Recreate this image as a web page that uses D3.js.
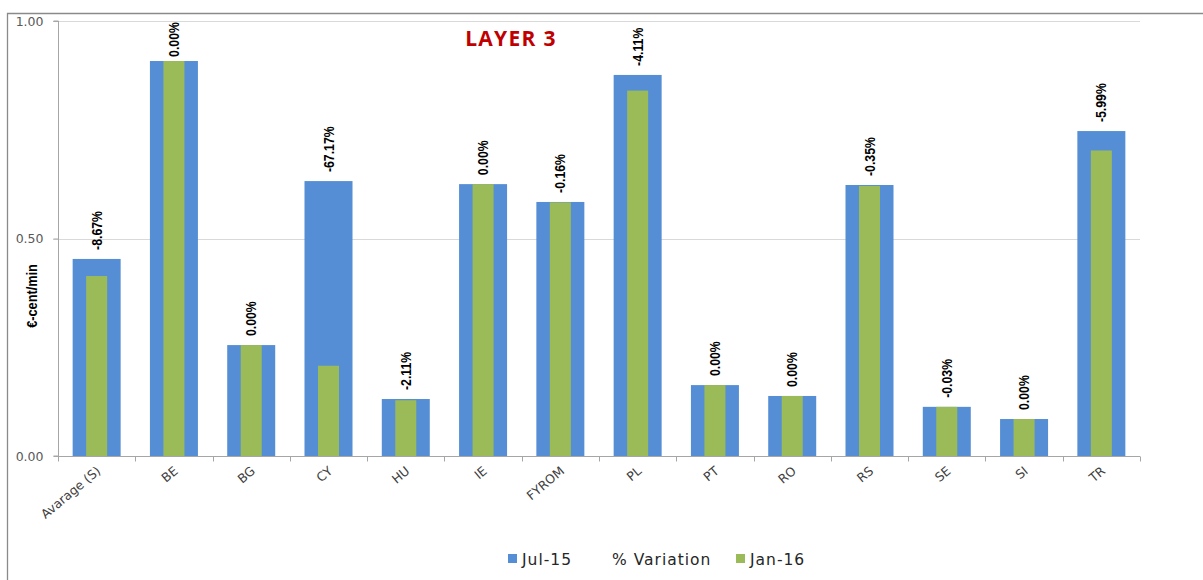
<!DOCTYPE html>
<html>
<head>
<meta charset="utf-8">
<script src="https://cdn.jsdelivr.net/npm/d3@7"></script>
<style>
  html, body { margin: 0; padding: 0; background: #fff; }
  svg { display: block; }
</style>
</head>
<body>
<svg id="chart" width="1203" height="580"></svg>
<script>
// Rates per destination, €-cent/min
const categories = ["Avarage (S)", "BE", "BG", "CY", "HU", "IE", "FYROM", "PL", "PT", "RO", "RS", "SE", "SI", "TR"];
const jul15 = [0.453, 0.908, 0.255, 0.632, 0.131, 0.625, 0.584, 0.876, 0.163, 0.138, 0.623, 0.113, 0.085, 0.747];
const jan16 = [0.4137, 0.908, 0.255, 0.2075, 0.1282, 0.625, 0.5831, 0.840, 0.163, 0.138, 0.6208, 0.11297, 0.085, 0.7023];
const variation = ["-8.67%", "0.00%", "0.00%", "-67.17%", "-2.11%", "0.00%", "-0.16%", "-4.11%", "0.00%", "0.00%", "-0.35%", "-0.03%", "0.00%", "-5.99%"];
const yTicks = [0, 0.5, 1.0];
const seriesNames = ["Jul-15", "% Variation", "Jan-16"];

const BLUE = "#558ED5";
const GREEN = "#9BBB59";
const AXIS = "#A6A6A6";

const svg = d3.select("#chart");
const m = { left: 58, right: 1140, top: 21, bottom: 456 };

// Outer chart frame (top and left edges visible)
svg.append("path")
  .attr("d", `M7.5,580 V13.5 H1203`)
  .attr("fill", "none")
  .attr("stroke", "#8A8A8A")
  .attr("stroke-width", 1.3);

const x = d3.scaleBand().domain(categories).range([m.left, m.right]).paddingInner(0).paddingOuter(0);
const y = d3.scaleLinear().domain([0, 1]).range([m.bottom, m.top]);

// Gridlines
svg.append("g").selectAll("line")
  .data(yTicks.filter(d => d > 0))
  .join("line")
  .attr("x1", m.left - 5).attr("x2", m.right)
  .attr("y1", d => Math.round(y(d)) + 0.5).attr("y2", d => Math.round(y(d)) + 0.5)
  .attr("stroke", "#D9D9D9").attr("stroke-width", 1.2);

// Y axis
const yAxis = d3.axisLeft(y).tickValues(yTicks).tickFormat(d3.format(".2f")).tickSize(5).tickPadding(10);
const gy = svg.append("g").attr("transform", `translate(${m.left + 0.5},0)`).call(yAxis);
gy.select(".domain").attr("stroke", AXIS).attr("d", `M-5,${y(0)}H0V${y(1)}H-5`);
gy.selectAll(".tick line").attr("stroke", AXIS);
gy.selectAll(".tick text")
  .attr("fill", "#595959")
  .style("font-family", "'DejaVu Sans', Verdana, sans-serif")
  .style("font-size", "12.5px");

// Y axis title
svg.append("text")
  .attr("transform", `translate(37,296) rotate(-90) scale(0.85,1)`)
  .attr("text-anchor", "middle")
  .style("font-family", "'Liberation Sans', Arial, sans-serif")
  .style("font-weight", "bold")
  .style("font-size", "15px")
  .attr("fill", "#000")
  .text("€-cent/min");

// Bars
const bw = 48, gw = 21;
const bars = svg.append("g");
bars.selectAll("rect.jul")
  .data(categories)
  .join("rect")
  .attr("class", "jul")
  .attr("x", (d) => x(d) + x.bandwidth() / 2 - bw / 2)
  .attr("width", bw)
  .attr("y", (d, i) => y(jul15[i]))
  .attr("height", (d, i) => y(0) - y(jul15[i]))
  .attr("fill", BLUE);
bars.selectAll("rect.jan")
  .data(categories)
  .join("rect")
  .attr("class", "jan")
  .attr("x", (d) => x(d) + x.bandwidth() / 2 - gw / 2)
  .attr("width", gw)
  .attr("y", (d, i) => y(jan16[i]))
  .attr("height", (d, i) => y(0) - y(jan16[i]))
  .attr("fill", GREEN);

// X axis
const xAxis = d3.axisBottom(x).tickSize(0).tickFormat(() => "");
const gx = svg.append("g").attr("transform", `translate(0,${m.bottom + 0.5})`).call(xAxis);
gx.select(".domain").attr("stroke", AXIS).attr("d", `M${m.left},0H${m.right}`);
const bounds = categories.map(c => x(c)).concat([m.right]);
gx.selectAll("line.sep")
  .data(bounds)
  .join("line")
  .attr("class", "sep")
  .attr("x1", d => Math.round(d) + 0.5).attr("x2", d => Math.round(d) + 0.5)
  .attr("y1", 0).attr("y2", 5)
  .attr("stroke", AXIS);

svg.append("g").selectAll("text")
  .data(categories)
  .join("text")
  .attr("transform", d => `translate(${x(d) + x.bandwidth() / 2 + 2},${m.bottom + 13}) rotate(-40)`)
  .attr("text-anchor", "end")
  .attr("dy", "0.35em")
  .attr("fill", "#404040")
  .style("font-family", "'DejaVu Sans', Verdana, sans-serif")
  .style("font-size", "12.5px")
  .text(d => d);

// Variation labels above each pair
const labelScale = 0.82;
const labels = svg.append("g").selectAll("text")
  .data(categories)
  .join("text")
  .attr("text-anchor", "start")
  .attr("fill", "#000")
  .style("font-family", "'Liberation Sans', Arial, sans-serif")
  .style("font-weight", "bold")
  .style("font-size", "15px")
  .text((d, i) => variation[i]);
labels.each(function (d, i) {
  const len = this.getComputedTextLength() * labelScale;
  const base = Math.max(y(jul15[i]) - 9, m.top + 1 + len);
  d3.select(this).attr("transform", `translate(${x(d) + x.bandwidth() / 2 + 5},${base}) rotate(-90) scale(${labelScale},1)`);
});

// Title
svg.append("text")
  .attr("x", 511).attr("y", 46)
  .attr("text-anchor", "middle")
  .attr("fill", "#C00000")
  .style("font-family", "'Open Sans', 'Noto Sans', sans-serif")
  .style("font-weight", "bold")
  .style("font-size", "21px")
  .style("letter-spacing", "1.3px")
  .text("LAYER 3");

// Legend
const legendItems = [
  { name: seriesNames[0], color: BLUE, x: 508 },
  { name: seriesNames[1], color: null, x: 598 },
  { name: seriesNames[2], color: GREEN, x: 736 }
];
const lg = svg.append("g");
legendItems.forEach(it => {
  if (it.color) {
    lg.append("rect").attr("x", it.x).attr("y", 554).attr("width", 9).attr("height", 9).attr("fill", it.color);
  }
  lg.append("text")
    .attr("x", it.x + 14).attr("y", 559)
    .attr("dy", "0.36em")
    .attr("fill", "#262626")
    .style("font-family", "'DejaVu Sans', sans-serif")
    .style("font-size", "15.5px")
    .style("letter-spacing", "1px")
    .text(it.name);
});
</script>
</body>
</html>
